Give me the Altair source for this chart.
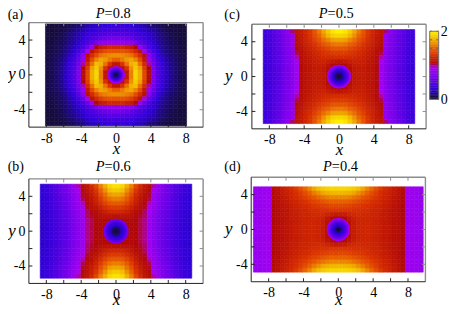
import altair as alt
import numpy as np
import pandas as pd

FONT = "Liberation Serif"
color_stops = [0, 0.12, 0.3, 0.6, 0.92, 1.0, 1.05, 1.3, 1.5, 1.75, 2.0]
color_range = ["#140e20", "#1c0a70", "#3000d8", "#6a00e8", "#a400f0", "#b000a8", "#b00808",
               "#d83000", "#e86000", "#f0b000", "#fff000"]
COLOR = alt.Scale(domain=color_stops, range=color_range, interpolate="rgb", clamp=True)

# one quadrant of every panel, rows run from the outer y edge down to y=0, columns from x=0 outward
P8 = [
 [.35,.34,.33,.31,.27,.25,.22,.17,.13,.10,.07,.06,.05,.04,.04,.04],
 [.41,.40,.38,.36,.34,.30,.27,.23,.18,.15,.10,.07,.06,.05,.04,.04],
 [.50,.49,.47,.44,.41,.37,.33,.28,.23,.18,.14,.10,.07,.05,.05,.04],
 [.66,.64,.61,.57,.50,.44,.38,.32,.26,.20,.15,.11,.08,.06,.05,.04],
 [.85,.85,.82,.78,.68,.55,.45,.37,.29,.23,.17,.12,.09,.07,.05,.05],
 [1.25,1.25,1.2,1.15,1.05,.85,.6,.45,.33,.26,.19,.14,.10,.07,.06,.05],
 [1.45,1.45,1.42,1.35,1.25,1.12,.9,.6,.42,.3,.22,.15,.11,.08,.06,.05],
 [1.65,1.63,1.6,1.55,1.42,1.27,1.1,.8,.52,.36,.26,.18,.13,.09,.07,.06],
 [1.5,1.58,1.68,1.72,1.62,1.42,1.15,.85,.6,.42,.3,.21,.15,.1,.08,.06],
 [1.15,1.3,1.55,1.75,1.8,1.55,1.25,1.0,.65,.46,.33,.24,.17,.11,.08,.06],
 [1.05,1.1,1.3,1.65,1.85,1.7,1.35,1.05,.7,.48,.35,.25,.17,.12,.08,.06],
 [1.05,1.05,1.15,1.6,1.9,1.75,1.4,1.08,.72,.5,.36,.26,.18,.12,.08,.06],
]
P6 = [
 [1.95,1.9,1.75,1.6,1.4,1.25,1.15,1.08,1.0,.85,.75,.65,.58,.5,.42,.36,.32],
 [1.85,1.8,1.65,1.5,1.32,1.2,1.12,1.06,.92,.83,.73,.63,.56,.48,.41,.36,.31],
 [1.72,1.68,1.55,1.42,1.27,1.16,1.1,1.04,.9,.8,.71,.62,.55,.47,.4,.35,.31],
 [1.6,1.56,1.48,1.35,1.22,1.13,1.08,1.03,.88,.78,.69,.6,.53,.46,.39,.34,.3],
 [1.48,1.45,1.38,1.28,1.18,1.1,1.06,.98,.86,.76,.67,.58,.51,.45,.38,.33,.3],
 [1.35,1.33,1.28,1.2,1.13,1.08,1.04,.93,.84,.74,.65,.57,.5,.44,.37,.33,.29],
 [1.25,1.23,1.2,1.14,1.09,1.06,1.02,.9,.82,.72,.63,.55,.49,.42,.36,.32,.29],
 [1.12,1.12,1.12,1.1,1.06,1.04,1.02,.88,.8,.7,.62,.54,.48,.42,.36,.32,.28],
 [1.05,1.05,1.06,1.06,1.05,1.03,1.01,.87,.79,.69,.61,.54,.47,.41,.35,.31,.28],
 [1.05,1.05,1.05,1.05,1.05,1.03,1.01,.86,.78,.68,.6,.53,.47,.41,.35,.31,.28],
 [1.05,1.05,1.05,1.05,1.05,1.03,1.01,.86,.78,.68,.6,.53,.47,.41,.35,.31,.28],
]
P5 = [
 [2.0,1.95,1.85,1.72,1.58,1.45,1.33,1.24,1.17,1.12,1.02,.78,.68,.6,.52,.44,.38],
 [1.9,1.87,1.78,1.65,1.52,1.42,1.32,1.23,1.17,1.12,.85,.75,.67,.58,.5,.43,.37],
 [1.72,1.7,1.62,1.54,1.45,1.37,1.29,1.22,1.16,1.1,.84,.74,.66,.57,.5,.42,.37],
 [1.58,1.56,1.5,1.45,1.38,1.31,1.25,1.2,1.14,1.08,.83,.73,.65,.56,.49,.42,.36],
 [1.46,1.45,1.4,1.36,1.32,1.27,1.22,1.17,1.12,1.06,.82,.72,.64,.56,.48,.41,.36],
 [1.36,1.35,1.33,1.3,1.27,1.23,1.19,1.15,1.1,1.03,.81,.71,.63,.55,.48,.41,.35],
 [1.28,1.27,1.26,1.25,1.23,1.2,1.17,1.13,1.09,1.0,.8,.7,.62,.55,.47,.4,.35],
 [1.14,1.15,1.18,1.2,1.2,1.18,1.15,1.12,1.08,.92,.8,.7,.62,.54,.47,.4,.35],
 [1.05,1.06,1.12,1.17,1.18,1.17,1.14,1.11,1.07,.9,.79,.7,.61,.54,.47,.4,.34],
 [1.05,1.05,1.08,1.15,1.17,1.16,1.14,1.11,1.07,.9,.79,.69,.61,.53,.46,.4,.34],
 [1.05,1.05,1.08,1.15,1.17,1.16,1.14,1.11,1.07,.9,.79,.69,.61,.53,.46,.4,.34],
]
P4 = [
 [1.9,1.9,1.88,1.85,1.8,1.72,1.62,1.52,1.42,1.34,1.27,1.22,1.17,1.12,1.08,.9,.87,.86,.85],
 [1.78,1.77,1.75,1.72,1.65,1.58,1.5,1.42,1.35,1.29,1.24,1.2,1.16,1.11,1.07,.9,.87,.86,.85],
 [1.62,1.62,1.6,1.56,1.52,1.46,1.41,1.36,1.31,1.26,1.22,1.18,1.14,1.1,1.06,.9,.87,.86,.85],
 [1.5,1.5,1.48,1.45,1.41,1.38,1.34,1.3,1.27,1.23,1.2,1.16,1.13,1.09,1.06,.9,.87,.86,.85],
 [1.4,1.4,1.38,1.36,1.34,1.32,1.29,1.27,1.24,1.21,1.18,1.15,1.12,1.09,1.05,.9,.87,.86,.85],
 [1.32,1.32,1.31,1.3,1.29,1.28,1.26,1.24,1.22,1.2,1.17,1.14,1.11,1.08,1.05,.9,.87,.86,.85],
 [1.16,1.18,1.22,1.25,1.26,1.25,1.24,1.23,1.21,1.18,1.16,1.13,1.11,1.08,1.05,.9,.87,.86,.85],
 [1.05,1.07,1.13,1.2,1.23,1.24,1.23,1.22,1.2,1.18,1.16,1.13,1.1,1.08,1.05,.9,.87,.86,.85],
 [1.03,1.05,1.1,1.18,1.22,1.23,1.23,1.22,1.2,1.18,1.15,1.13,1.1,1.08,1.05,.9,.87,.86,.85],
 [1.03,1.03,1.1,1.18,1.22,1.23,1.23,1.22,1.2,1.18,1.15,1.13,1.1,1.08,1.05,.9,.87,.86,.85],
]
# core of each panel: ring radius and value, outermost first
core8_r = [1.03, .9, .75, .6, .45, .3, .15]
core8_v = [.92, .72, .5, .36, .25, .12, .03]
core6_r = [1.43, 1.25, 1.05, .85, .65, .45, .25]
core6_v = [.68, .5, .38, .3, .22, .1, .03]
core5_r = [1.37, 1.2, 1.0, .8, .6, .4, .2]
core5_v = [.9, .62, .45, .33, .22, .1, .03]
core4_r = [1.33, 1.15, .95, .75, .55, .35, .2]
core4_v = [.88, .65, .48, .36, .26, .12, .03]

x_ticks = [-8, -6, -4, -2, 0, 2, 4, 6, 8]
y_ticks = [-4, -2, 0, 2, 4]
x_labels = [-8, -4, 0, 4, 8]
y_labels = [-4, 0, 4]
bar_edges = list(np.linspace(0, 2, 41))
bar_ticks = [0, .25, .5, .75, 1, 1.25, 1.5, 1.75, 2]
bar_labels = [0, 1, 2]

W, H = 175, 105
LABEL = "(datum.value<0?'-':'')+abs(datum.value)"
DARK, GRAY = "#222222", "#8c8c8c"


def cells(rows, x_ext, y_ext):
    xe = np.linspace(0, x_ext, len(rows[0]) + 1)
    ye = np.linspace(0, y_ext, len(rows) + 1)
    out = []
    for r, row in enumerate(rows):
        j = len(rows) - 1 - r
        for i, v in enumerate(row):
            for sx in (-1, 1):
                for sy in (-1, 1):
                    out.append(dict(x=sx * xe[i], x2=sx * xe[i + 1], y=sy * ye[j], y2=sy * ye[j + 1], v=v))
    return pd.DataFrame(out)


def panel(rows, x_ext, y_ext, core_r, core_v, tag, pval, l=0.0, t=0.0, cell_w=None, tag_x=-27, tag_y=-8,
          p_x=76, p_y=-7, ytitle_x=-23, xtitle_y=26):
    h = H + t
    w = cell_w or (W + l)
    xs = alt.Scale(domain=[-10, 10], range=[l, l + W], nice=False, zero=False)
    ys = alt.Scale(domain=[-6, 6], range=[t + H, t], nice=False, zero=False)
    ax_x = alt.Axis(values=x_labels, labelExpr=LABEL, title="x", titleFont=FONT,
                    titleFontSize=17, titleFontStyle="italic", titleFontWeight="normal",
                    titleX=l + W / 2, titleY=xtitle_y, titleBaseline="alphabetic",
                    labelFont=FONT, labelFontSize=14, labelColor="#000", titleColor="#000",
                    labelPadding=4, ticks=False, domain=False, grid=False,
                    labelFlush=False, labelOverlap=False)
    ax_y = alt.Axis(values=y_labels, labelExpr=LABEL, title="y", titleFont=FONT,
                    titleFontSize=17, titleFontStyle="italic", titleFontWeight="normal",
                    titleAngle=0, titleX=ytitle_x, titleY=t + H / 2 - 1, titleAlign="center",
                    titleBaseline="middle", labelFont=FONT, labelFontSize=14,
                    labelColor="#000", titleColor="#000", labelPadding=4, ticks=False,
                    domain=False, grid=False, labelFlush=False, labelOverlap=False)
    heat = alt.Chart(cells(rows, x_ext, y_ext)).mark_rect(strokeWidth=0.6).encode(
        x=alt.X("x:Q", scale=xs, axis=ax_x),
        x2="x2:Q",
        y=alt.Y("y:Q", scale=ys, axis=ax_y),
        y2="y2:Q",
        color=alt.Color("v:Q", scale=COLOR, legend=None),
        stroke=alt.Stroke("v:Q", scale=COLOR, legend=None),
    )
    core = alt.Chart(pd.DataFrame({"r": core_r, "v": core_v, "x": [0] * len(core_r), "y": [0] * len(core_r)})).mark_arc(
        theta=0, theta2=6.2832).encode(
        x=alt.X("x:Q", scale=xs, axis=ax_x),
        y=alt.Y("y:Q", scale=ys, axis=ax_y),
        radius=alt.Radius("r:Q", stack=None, scale=alt.Scale(type="linear", domain=[0, 6], range=[0, H / 2], zero=True)),
        color=alt.Color("v:Q", scale=COLOR, legend=None),
    )
    one = pd.DataFrame({"a": [0]})
    layers = [heat, core]
    for px, py, px2, py2, col, sw in [
        (l, t, l + W, t, GRAY, 1.4), (l + W, t, l + W, t + H, GRAY, 1.4),
        (l, t, l, t + H, DARK, 1.0), (l, t + H, l + W, t + H, DARK, 1.0),
    ]:
        layers.append(alt.Chart(one).mark_rule(color=col, strokeWidth=sw).encode(
            x=alt.value(px), y=alt.value(py), x2=alt.value(px2), y2=alt.value(py2)))
    xt = pd.DataFrame({"v": x_ticks})
    yt = pd.DataFrame({"v": y_ticks})
    for y0, y1, col in [(t, t + 3.5, GRAY), (t + H - 3.5, t + H, DARK)]:
        layers.append(alt.Chart(xt).mark_rule(color=col, strokeWidth=1).encode(
            x=alt.X("v:Q", scale=xs, axis=ax_x), y=alt.value(y0), y2=alt.value(y1)))
    for x0, x1, col in [(l, l + 3.5, DARK), (l + W - 3.5, l + W, GRAY)]:
        layers.append(alt.Chart(yt).mark_rule(color=col, strokeWidth=1).encode(
            y=alt.Y("v:Q", scale=ys, axis=ax_y), x=alt.value(x0), x2=alt.value(x1)))
    layers.append(alt.Chart(one).mark_text(font=FONT, fontSize=14, align="left", baseline="alphabetic", color="#000").encode(
        x=alt.value(tag_x), y=alt.value(t + tag_y), text=alt.value(tag)))
    layers.append(alt.Chart(one).mark_text(font=FONT, fontSize=14.5, fontStyle="italic", align="right", baseline="alphabetic", color="#000").encode(
        x=alt.value(l + p_x), y=alt.value(t + p_y), text=alt.value("P")))
    layers.append(alt.Chart(one).mark_text(font=FONT, fontSize=14.5, align="left", baseline="alphabetic", color="#000").encode(
        x=alt.value(l + p_x), y=alt.value(t + p_y), text=alt.value("=" + pval)))
    return alt.layer(*layers).properties(width=w, height=h)


def colorbar():
    bw, bh, t = 9.0, 68.3, 8.7
    ys = alt.Scale(domain=[0, 2], range=[t + bh, t], nice=False, zero=False)
    ax = alt.Axis(orient="right", values=bar_labels, labelFont=FONT, labelFontSize=14,
                  labelColor="#000", labelPadding=1.5, ticks=False, domain=False, grid=False,
                  title=None, labelFlush=False, labelOverlap=False, format="d")
    e = np.array(bar_edges)
    df = pd.DataFrame({"y": e[:-1], "y2": e[1:], "v": (e[:-1] + e[1:]) / 2})
    rect = alt.Chart(df).mark_rect(strokeWidth=0.5).encode(
        x=alt.value(0), x2=alt.value(bw),
        y=alt.Y("y:Q", scale=ys, axis=ax),
        y2="y2:Q",
        color=alt.Color("v:Q", scale=COLOR, legend=None),
        stroke=alt.Stroke("v:Q", scale=COLOR, legend=None),
    )
    tk = pd.DataFrame({"v": bar_ticks})
    one = pd.DataFrame({"a": [0]})
    layers = [rect]
    for x0, x1 in [(0, 2.5), (bw - 2.5, bw)]:
        layers.append(alt.Chart(tk).mark_rule(color="#555555", strokeWidth=0.8).encode(
            y=alt.Y("v:Q", scale=ys, axis=ax), x=alt.value(x0), x2=alt.value(x1)))
    for px, py, px2, py2 in [(0, t, bw, t), (bw, t, bw, t + bh), (0, t, 0, t + bh), (0, t + bh, bw, t + bh)]:
        layers.append(alt.Chart(one).mark_rule(color="#777777", strokeWidth=1).encode(
            x=alt.value(px), y=alt.value(py), x2=alt.value(px2), y2=alt.value(py2)))
    return alt.layer(*layers).properties(width=bw, height=t + bh)


a = panel(P8, 8.1, 5.85, core8_r, core8_v, "(a)", "0.8", cell_w=219.4, tag_x=-21.3, tag_y=-4, p_y=-4.5, ytitle_x=-17.5)
c = panel(P5, 8.7, 5.4, core5_r, core5_v, "(c)", "0.5", l=0.7, t=1.7, tag_x=-27, tag_y=-5.7, p_y=-6)
b = panel(P6, 8.7, 5.4, core6_r, core6_v, "(b)", "0.6", t=1.7, cell_w=219.4, tag_x=-21.3, tag_y=-8, p_y=-7.7,
          ytitle_x=-17.5, xtitle_y=21)
d = panel(P4, 9.75, 4.9, core4_r, core4_v, "(d)", "0.4", tag_x=-27, tag_y=-6, p_x=81, p_y=-6.3, xtitle_y=22.5)

chart = alt.ConcatChart(concat=[a, c, colorbar(), b, d], columns=3, bounds="flush",
                        spacing={"column": 3.3, "row": 48.3},
                        padding={"left": -1, "top": -3, "right": 1, "bottom": 0}
                        ).resolve_scale(color="shared", stroke="shared").configure_view(stroke=None)

chart.save("out.html", embed_options={"renderer": "svg", "actions": False})
